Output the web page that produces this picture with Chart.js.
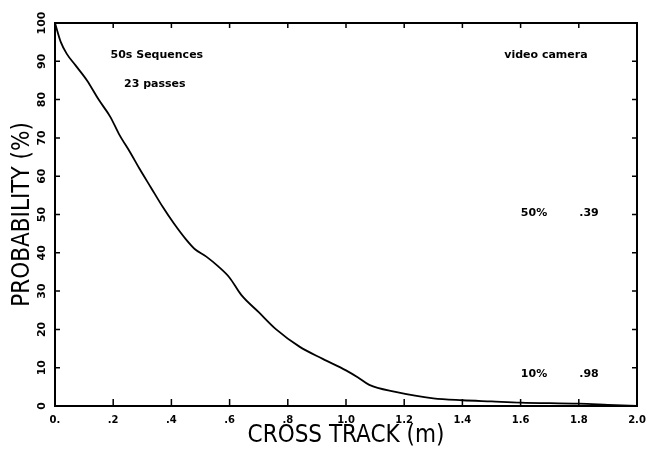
<!DOCTYPE html>
<html>
<head>
<meta charset="utf-8">
<script src="https://cdn.jsdelivr.net/npm/chart.js@4/dist/chart.umd.min.js"></script>
<style>
  html, body { margin: 0; padding: 0; background: #fff; }
  #wrap { width: 655px; height: 450px; }
</style>
</head>
<body>
<div id="wrap"><canvas id="graph"></canvas></div>
<script>
// valores
const crossTrack = [0, 0.02, 0.04, 0.07, 0.11, 0.15, 0.19, 0.22, 0.26, 0.29, 0.33, 0.37, 0.41, 0.45, 0.48,
  0.52, 0.56, 0.60, 0.64, 0.70, 0.76, 0.84, 0.92, 1.00, 1.04, 1.08, 1.17, 1.30, 1.40, 1.50, 1.60, 1.80, 1.90, 2.00];
const probability = [100, 95, 92, 89, 85, 80, 75.5, 71, 66, 62, 57, 52, 47.5, 43.5, 41,
  39, 36.5, 33.5, 29, 24.5, 20, 15.5, 12.3, 9.3, 7.5, 5.5, 3.7, 2, 1.5, 1.2, 0.9, 0.6, 0.3, 0];
const xTickLabels = ['0.', '.2', '.4', '.6', '.8', '1.0', '1.2', '1.4', '1.6', '1.8', '2.0'];
const yTickLabels = ['0', '10', '20', '30', '40', '50', '60', '70', '80', '90', '100'];
const notes = [
  { text: '50s Sequences', x: 0.35, y: 91.5 },
  { text: '23 passes', x: 0.343, y: 84 },
  { text: 'video camera', x: 1.687, y: 91.5 },
  { text: '50%', x: 1.646, y: 50.4 },
  { text: '.39', x: 1.835, y: 50.4 },
  { text: '10%', x: 1.646, y: 8.4 },
  { text: '.98', x: 1.835, y: 8.4 }
];

const points = crossTrack.map((x, i) => ({ x: x, y: probability[i] }));

// marco, ticks hacia adentro, etiquetas del eje y giradas y notas
const framePlugin = {
  id: 'frame',
  afterDraw(chart) {
    const ctx = chart.ctx;
    const a = chart.chartArea;
    const xs = chart.scales.x;
    const ys = chart.scales.y;
    ctx.save();
    ctx.strokeStyle = '#000';
    ctx.lineWidth = 2;
    ctx.strokeRect(a.left, a.top, a.right - a.left, a.bottom - a.top);
    ctx.lineWidth = 1.5;
    ctx.beginPath();
    xs.ticks.forEach(t => {
      const px = xs.getPixelForValue(t.value);
      ctx.moveTo(px, a.bottom); ctx.lineTo(px, a.bottom - 7);
      ctx.moveTo(px, a.top); ctx.lineTo(px, a.top + 5);
    });
    ys.ticks.forEach(t => {
      const py = ys.getPixelForValue(t.value);
      ctx.moveTo(a.left, py); ctx.lineTo(a.left + 5, py);
      ctx.moveTo(a.right, py); ctx.lineTo(a.right - 5, py);
    });
    ctx.stroke();

    ctx.fillStyle = '#000';
    ctx.font = 'bold 11px "DejaVu Sans"';
    ctx.textAlign = 'center';
    ctx.textBaseline = 'middle';
    ys.ticks.forEach((t, i) => {
      const py = ys.getPixelForValue(t.value);
      ctx.save();
      ctx.translate(a.left - 13, py);
      ctx.rotate(-Math.PI / 2);
      ctx.fillText(yTickLabels[i], 0, 0);
      ctx.restore();
    });

    ctx.font = 'bold 11px "DejaVu Sans"';
    notes.forEach(n => {
      ctx.fillText(n.text, xs.getPixelForValue(n.x), ys.getPixelForValue(n.y));
    });
    ctx.restore();
  }
};

const config = {
  type: 'scatter',
  data: {
    datasets: [{
      data: points,
      showLine: true,
      borderColor: '#000',
      borderWidth: 1.8,
      pointRadius: 0,
      cubicInterpolationMode: 'monotone',
      clip: false
    }]
  },
  options: {
    responsive: true,
    maintainAspectRatio: false,
    animation: false,
    layout: { padding: { top: 23, right: 18, left: 0, bottom: 0 } },
    plugins: {
      legend: { display: false },
      tooltip: { enabled: false }
    },
    scales: {
      x: {
        type: 'linear',
        min: 0,
        max: 2,
        grid: { display: false, drawTicks: false },
        border: { display: false },
        ticks: {
          stepSize: 0.2,
          padding: 8,
          color: '#000',
          maxRotation: 0,
          font: { family: 'DejaVu Sans', size: 10, weight: 'bold' },
          callback: (v, i) => xTickLabels[i]
        },
        title: {
          display: true,
          text: 'CROSS TRACK (m)',
          color: '#000',
          font: { family: '"Liberation Sans Narrow", "DejaVu Sans Condensed", "Liberation Sans"', size: 24 },
          padding: { top: 0, bottom: 0 }
        },
        afterFit: s => { s.height = 44; }
      },
      y: {
        min: 0,
        max: 100,
        grid: { display: false, drawTicks: false },
        border: { display: false },
        ticks: { stepSize: 10, display: false },
        title: {
          display: true,
          text: 'PROBABILITY (%)',
          color: '#000',
          font: { family: '"Liberation Sans Narrow", "DejaVu Sans Condensed", "Liberation Sans"', size: 24 },
          padding: { top: 8, bottom: 0 }
        },
        afterFit: s => { s.width = 55; }
      }
    }
  },
  plugins: [framePlugin]
};

const chart = new Chart(document.querySelector('#graph'), config);
</script>
</body>
</html>
